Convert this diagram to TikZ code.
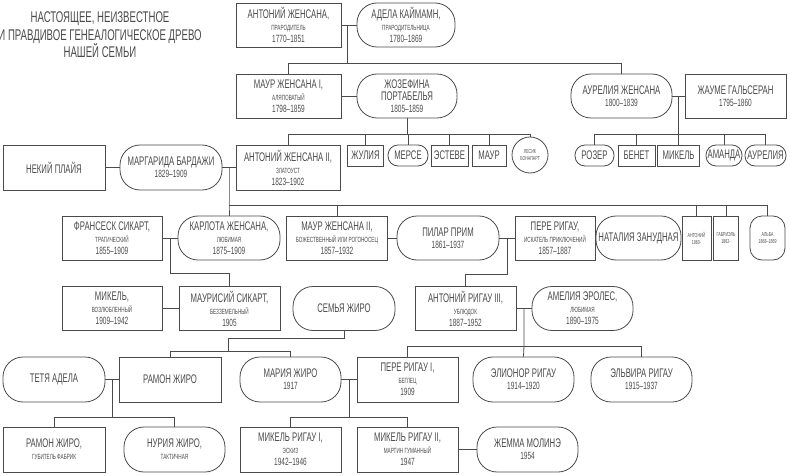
\documentclass[tikz,border=0pt]{standalone}
\usepackage{fontspec}
\setmainfont{Liberation Sans}[FakeStretch=0.62]
\usepackage{tikz}
\newcommand\nmf{\fontsize{12.5}{11}\selectfont}
\newcommand\sbf{\fontsize{7.5}{8.5}\selectfont}
\newcommand\yrf{\fontsize{10.5}{10}\selectfont}
\newcommand\tnf{\fontsize{5.8}{7}\selectfont}
\definecolor{ink}{HTML}{4A4A4A}

\begin{document}
\begin{tikzpicture}[x=1pt,y=-1pt,line width=0.8pt,draw=ink,text=ink,
                    box/.style={draw,rectangle,align=center,inner sep=1pt,
                      minimum width=101pt,minimum height=44pt},
                    pill/.style={box,rounded corners=20pt},
                    small/.style={draw,rectangle,align=center,inner sep=1pt,
                      minimum height=21pt,font=\nmf}]
  \useasboundingbox (0,0) rectangle (790,476);

  % title
  \node[align=center,font=\fontsize{15.5}{17.5}\selectfont] (title) at (100,35)
    {НАСТОЯЩЕЕ, НЕИЗВЕСТНОЕ\\И ПРАВДИВОЕ ГЕНЕАЛОГИЧЕСКОЕ ДРЕВО\\НАШЕЙ СЕМЬИ};

  % first generations
  \node[box,minimum width=105pt] (ant1) at (288.5,25) {\nmf АНТОНИЙ ЖЕНСАНА,\\\sbf ПРАРОДИТЕЛЬ\\\yrf 1770--1851};
  \node[pill,minimum width=98pt] (adela) at (406,25) {\nmf АДЕЛА КАЙМАМН,\\\sbf ПРАРОДИТЕЛЬНИЦА\\\yrf 1780--1869};
  \node[box,minimum width=105pt] (maur1) at (288.5,96) {\nmf МАУР ЖЕНСАНА I,\\\sbf АЛЯПОВАТЫЙ\\\yrf 1798--1859};
  \node[pill,minimum width=100pt] (jozef) at (407,96) {\nmf ЖОЗЕФИНА\\\nmf ПОРТАБЕЛЬЯ\\\yrf 1805--1859};
  \node[pill] (aur) at (621.5,96) {\nmf АУРЕЛИЯ ЖЕНСАНА\\\yrf 1800--1839};
  \node[box] (jaume) at (735.5,96) {\nmf ЖАУМЕ ГАЛЬСЕРАН\\\yrf 1795--1860};

  \node[small,minimum width=36pt] (julia) at (365.5,155.5) {ЖУЛИЯ};
  \node[small,rounded corners=10pt,minimum width=40pt] (merse) at (408,155.5) {МЕРСЕ};
  \node[small,minimum width=37pt] (esteve) at (449.5,155.5) {ЭСТЕВЕ};
  \node[small,minimum width=34pt] (maur) at (489,155.5) {МАУР};
  \node[draw,circle,minimum size=36pt,inner sep=0pt,align=center,font=\tnf] (lesik) at (530,155) {ЛЕСИК\\БОНАПАРТ};

  \node[small,rounded corners=10pt,minimum width=39pt] (rozer) at (594.5,155.5) {РОЗЕР};
  \node[small,minimum width=37pt] (benet) at (636.5,155.5) {БЕНЕТ};
  \node[small,minimum width=42pt] (mikel) at (678.5,155.5) {МИКЕЛЬ};
  \node[small,rounded corners=10pt,minimum width=36pt] (amanda) at (724,155.5) {АМАНДА};
  \node[small,rounded corners=10pt,minimum width=41pt] (aurelia) at (765.5,155.5) {АУРЕЛИЯ};

  \node[box,minimum width=102pt,minimum height=45pt] (plaia) at (54,167.5) {\nmf НЕКИЙ ПЛАЙЯ};
  \node[pill,minimum width=102pt,minimum height=45pt] (margar) at (171,167.5) {\nmf МАРГАРИДА БАРДАЖИ\\\yrf 1829--1909};
  \node[box,minimum width=104pt,minimum height=45pt] (ant2) at (288,167.5) {\nmf АНТОНИЙ ЖЕНСАНА II,\\\sbf ЗЛАТОУСТ\\\yrf 1823--1902};

  % third row
  \node[box,minimum width=100pt] (fran) at (112,238) {\nmf ФРАНСЕСК СИКАРТ,\\\sbf ТРАГИЧЕСКИЙ\\\yrf 1855--1909};
  \node[pill,minimum width=102pt] (carl) at (229,238) {\nmf КАРЛОТА ЖЕНСАНА,\\\sbf ЛЮБИМАЯ\\\yrf 1875--1909};
  \node[box] (maur2) at (337,238) {\nmf МАУР ЖЕНСАНА II,\\\sbf БОЖЕСТВЕННЫЙ ИЛИ РОГОНОСЕЦ\\\yrf 1857--1932};
  \node[pill,minimum width=102pt] (pilar) at (448,238) {\nmf ПИЛАР ПРИМ\\\yrf 1861--1937};
  \node[box,minimum width=80pt] (pere) at (555,238) {\nmf ПЕРЕ РИГАУ,\\\sbf ИСКАТЕЛЬ ПРИКЛЮЧЕНИЙ\\\yrf 1857--1887};
  \node[pill,minimum width=85pt] (natalia) at (638.5,238) {\nmf НАТАЛИЯ ЗАНУДНАЯ};
  \node[box,minimum width=29pt,font=\tnf] (antsm) at (696.5,238) {АНТОНИЙ\\1860-};
  \node[box,minimum width=25pt,font=\tnf] (gabr) at (726,238) {ГАБРИЭЛЬ\\1862-};
  \node[pill,rounded corners=12pt,minimum width=35pt,font=\tnf] (alba) at (767.5,238) {АЛЬБА\\1868--1869};

  % fourth row
  \node[box,minimum width=100pt] (mikel1) at (112,308.5) {\nmf МИКЕЛЬ,\\\sbf ВОЗЛЮБЛЕННЫЙ\\\yrf 1909--1942};
  \node[box] (mauris) at (229.5,308.5) {\nmf МАУРИСИЙ СИКАРТ,\\\sbf БЕЗЗЕМЕЛЬНЫЙ\\\yrf 1905};
  \node[pill,minimum width=102pt] (giro) at (344,308.5) {\nmf СЕМЬЯ ЖИРО};
  \node[box] (ant3) at (465.5,308.5) {\nmf АНТОНИЙ РИГАУ III,\\\sbf УБЛЮДОК\\\yrf 1887--1952};
  \node[pill] (amel) at (582.5,308.5) {\nmf АМЕЛИЯ ЭРОЛЕС,\\\sbf ЛЮБИМАЯ\\\yrf 1890--1975};

  % fifth row
  \node[pill,minimum width=102pt,minimum height=45pt] (aunt) at (54,379.5) {\nmf ТЕТЯ АДЕЛА};
  \node[box,minimum width=102pt,minimum height=45pt] (ramon) at (170,379.5) {\nmf РАМОН ЖИРО};
  \node[pill,minimum height=45pt] (maria) at (290.5,379.5) {\nmf МАРИЯ ЖИРО\\\yrf 1917};
  \node[box,minimum height=45pt] (pere1) at (407.5,379.5) {\nmf ПЕРЕ РИГАУ I,\\\sbf БЕГЛЕЦ\\\yrf 1909};
  \node[pill,minimum height=45pt] (elion) at (523.5,379.5) {\nmf ЭЛИОНОР РИГАУ\\\yrf 1914--1920};
  \node[pill,minimum height=45pt] (elvira) at (641.5,379.5) {\nmf ЭЛЬВИРА РИГАУ\\\yrf 1915--1937};

  % last row
  \node[box,minimum width=102pt,minimum height=45pt] (ramon2) at (54,449.5) {\nmf РАМОН ЖИРО,\\\sbf ГУБИТЕЛЬ ФАБРИК};
  \node[pill,minimum height=45pt] (nuria) at (174.5,449.5) {\nmf НУРИЯ ЖИРО,\\\sbf ТАКТИЧНАЯ};
  \node[box,minimum height=45pt] (mikr1) at (290.5,449.5) {\nmf МИКЕЛЬ РИГАУ I,\\\sbf ЭСКИЗ\\\yrf 1942--1946};
  \node[box,minimum height=45pt] (mikr2) at (407.5,449.5) {\nmf МИКЕЛЬ РИГАУ II,\\\sbf МАРТИН ГУМАННЫЙ\\\yrf 1947};
  \node[pill,minimum height=45pt] (jemma) at (527.5,449.5) {\nmf ЖЕММА МОЛИНЭ\\\yrf 1954};

  % junctions
  \coordinate (m1) at (347,25);      \coordinate (j1) at (347,63);
  \coordinate (m2) at (407,118);     \coordinate (j2) at (407,134);
  \coordinate (m3) at (678.5,96);    \coordinate (j3) at (678.5,134);
  \coordinate (m4) at (229,167.5);   \coordinate (j4) at (229,205);
  \coordinate (m5) at (170,238);     \coordinate (j5) at (170,273);
  \coordinate (m6) at (507,238);     \coordinate (j6) at (507,274);
  \coordinate (j7) at (344,338);     \coordinate (k7) at (228,338);
  \coordinate (j8) at (228,351);
  \coordinate (m9) at (524,308.5);   \coordinate (j9) at (524,346);
  \coordinate (m10) at (112,379.5);  \coordinate (j10) at (112,417);
  \coordinate (m11) at (349,379.5);  \coordinate (j11) at (349,417);

  % couples
  \draw (ant1) -- (adela);
  \draw (maur1) -- (jozef);
  \draw (aur) -- (jaume);
  \draw (plaia) -- (margar);
  \draw (margar) -- (ant2);
  \draw (fran) -- (carl);
  \draw (maur2) -- (pilar);
  \draw (pilar) -- (pere);
  \draw (mikel1) -- (mauris);
  \draw (ant3) -- (amel);
  \draw (aunt) -- (ramon);
  \draw (maria) -- (pere1);
  \draw (mikr2) -- (jemma);

  % descendants
  \draw (m1) -- (j1) -| (maur1.north);
  \draw (j1) -| (aur.north);
  \draw (m2) -- (j2) -| (ant2.north);
  \foreach \c in {julia,merse,esteve,maur,lesik} \draw (j2) -| (\c.north);
  \draw (m3) -- (j3);
  \foreach \c in {rozer,benet,mikel,amanda,aurelia} \draw (j3) -| (\c.north);
  \draw (m4) -- (j4) -- (carl.north);
  \foreach \c in {maur2,antsm,gabr,alba} \draw (j4) -| (\c.north);
  \draw (m5) -- (j5) -| (mauris.north);
  \draw (m6) -- (j6) -| (ant3.north);
  \draw (giro.south) -- (j7) -- (k7) -- (j8);
  \draw (j8) -| (ramon.north);
  \draw (j8) -| (maria.north);
  \draw (m9) -- (j9) -- (elion.north);
  \draw (j9) -| (pere1.north);
  \draw (j9) -| (elvira.north);
  \draw (m10) -- (j10);
  \draw (j10) -| (ramon2.north);
  \draw (j10) -| (nuria.north);
  \draw (m11) -- (j11);
  \draw (j11) -| (mikr1.north);
  \draw (j11) -| (mikr2.north);
\end{tikzpicture}
\end{document}
